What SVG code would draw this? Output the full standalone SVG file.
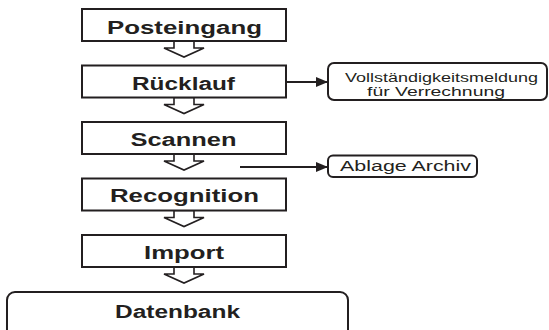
<svg xmlns="http://www.w3.org/2000/svg" width="549" height="330" viewBox="0 0 549 330">
<style>
.box{fill:#fff;stroke:#231f20;stroke-width:2}
.harrow{fill:#fff;stroke:#231f20;stroke-width:1.6;stroke-linejoin:miter}
.lbl{font-family:"Liberation Sans",Arial,sans-serif;font-weight:bold;font-size:18px;fill:#231f20;text-anchor:middle}
.sm{font-family:"Liberation Sans",Arial,sans-serif;font-size:12.5px;fill:#231f20;text-anchor:middle}
.conn{stroke:#231f20;stroke-width:2;fill:none}
</style>
<defs>
<marker id="ah" markerWidth="12" markerHeight="10" refX="12" refY="5" orient="auto" markerUnits="userSpaceOnUse">
<path d="M0,0 L12,5 L0,10 Z" fill="#231f20"/>
</marker>
</defs>
<g id="connectors">
<polygon class="harrow" points="174,41 174,48 164,48 184,57 204,48 194,48 194,41"/>
<polygon class="harrow" points="174,97.5 174,104.5 164,104.5 184,113.5 204,104.5 194,104.5 194,97.5"/>
<polygon class="harrow" points="174,154 174,161 164,161 184,170 204,161 194,161 194,154"/>
<polygon class="harrow" points="174,210.5 174,217.5 164,217.5 184,226.5 204,217.5 194,217.5 194,210.5"/>
<polygon class="harrow" points="174,267 174,274 164,274 184,283 204,274 194,274 194,267"/>
<line class="conn" x1="286" y1="82" x2="328" y2="82" marker-end="url(#ah)"/>
<line class="conn" x1="240" y1="167" x2="328" y2="167" marker-end="url(#ah)"/>
</g>
<g id="posteingang">
<rect class="box" x="82" y="9" width="204" height="32"/>
<text class="lbl" x="184.5" y="34" textLength="155" lengthAdjust="spacingAndGlyphs">Posteingang</text>
</g>
<g id="ruecklauf">
<rect class="box" x="82" y="65.5" width="204" height="32"/>
<text class="lbl" x="183.5" y="89.5" textLength="103" lengthAdjust="spacingAndGlyphs">Rücklauf</text>
</g>
<g id="scannen">
<rect class="box" x="82" y="122" width="204" height="32"/>
<text class="lbl" x="183.5" y="146" textLength="106" lengthAdjust="spacingAndGlyphs">Scannen</text>
</g>
<g id="recognition">
<rect class="box" x="82" y="178.5" width="204" height="32"/>
<text class="lbl" x="184.5" y="202" textLength="149" lengthAdjust="spacingAndGlyphs">Recognition</text>
</g>
<g id="import">
<rect class="box" x="82" y="235" width="204" height="32"/>
<text class="lbl" x="184" y="259" textLength="80" lengthAdjust="spacingAndGlyphs">Import</text>
</g>
<g id="datenbank">
<rect class="box" x="7" y="292" width="341" height="60" rx="8" ry="8"/>
<text class="lbl" x="177.5" y="318" textLength="125" lengthAdjust="spacingAndGlyphs">Datenbank</text>
</g>
<g id="vollstaendigkeitsmeldung">
<rect class="box" x="328" y="63" width="219" height="37" rx="6" ry="6"/>
<text class="sm" x="441.5" y="81.5" textLength="193" lengthAdjust="spacingAndGlyphs">Vollständigkeitsmeldung</text>
<text class="sm" x="436" y="95.5" textLength="138" lengthAdjust="spacingAndGlyphs">für Verrechnung</text>
</g>
<g id="ablage">
<rect class="box" x="328" y="155.5" width="149" height="21.5" rx="5" ry="5"/>
<text class="sm" x="405.5" y="171" textLength="131" lengthAdjust="spacingAndGlyphs" style="font-size:14px">Ablage Archiv</text>
</g>
</svg>
